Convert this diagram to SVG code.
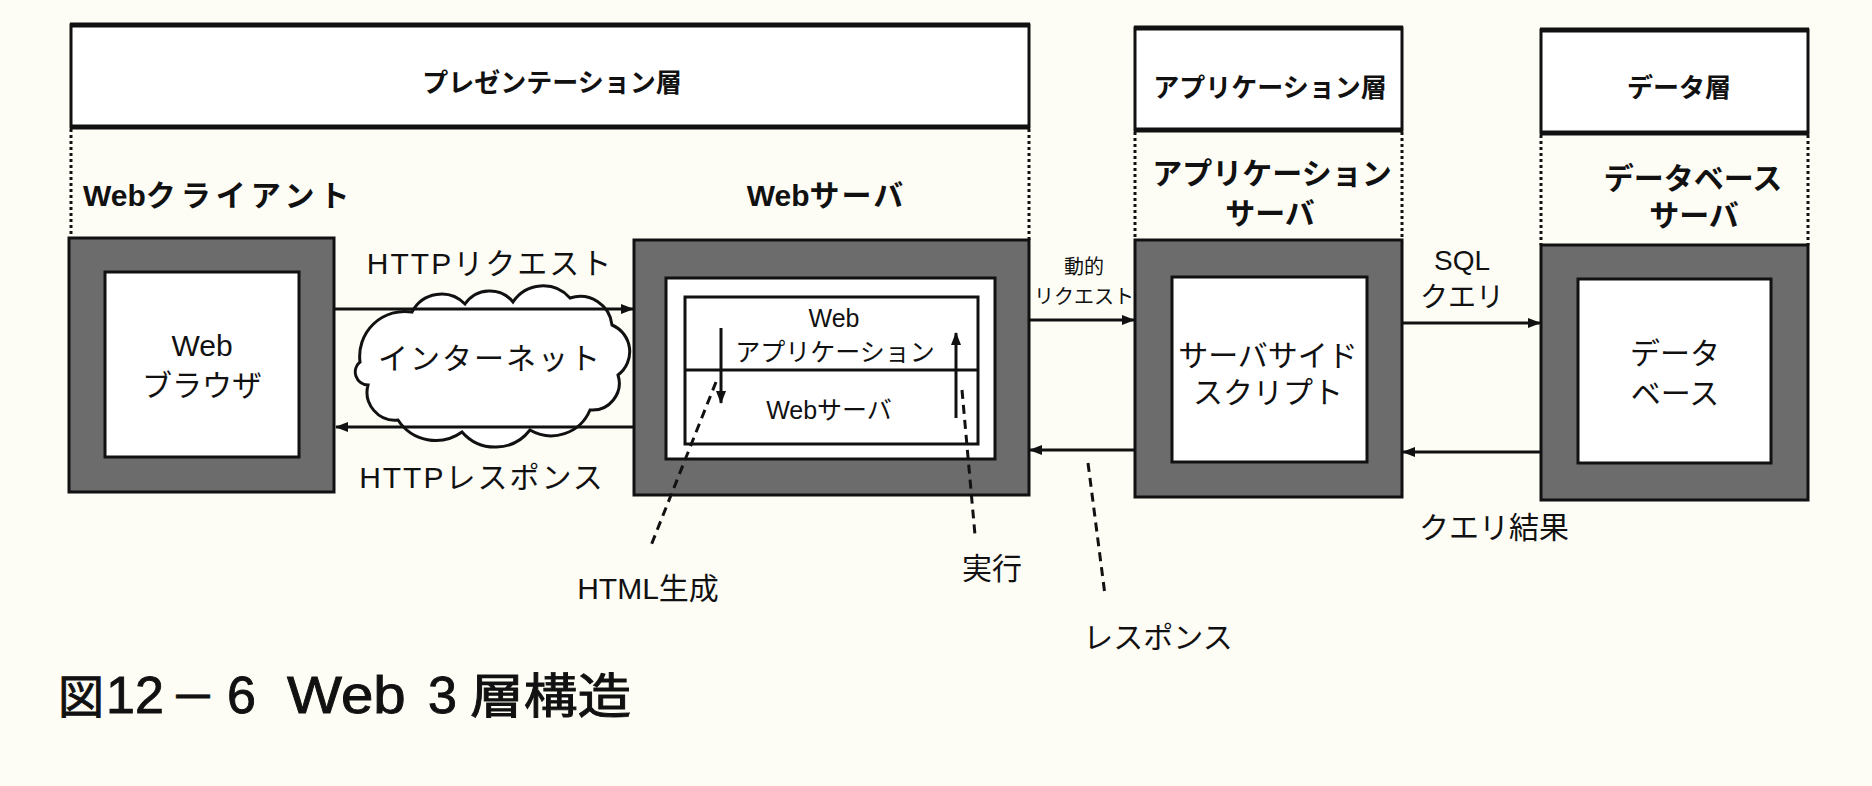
<svg xmlns="http://www.w3.org/2000/svg" width="1872" height="786" viewBox="0 0 1872 786">
<defs>
<style>
text{font-family:"Liberation Sans","Noto Sans CJK JP",sans-serif;fill:#111;}
.hd{font-size:26px;font-weight:bold;text-anchor:middle;}
.bl{font-size:30px;font-weight:bold;}
.c{text-anchor:middle;}
.n{font-size:30px;}
.s{font-size:25px;}
.hbox{fill:#fff;stroke:#111;stroke-width:3;}
.hline{stroke:#111;stroke-width:5;}
.dot{stroke:#111;stroke-width:3;stroke-dasharray:3 3;fill:none;}
.gray{fill:#6c6c6c;stroke:#111;stroke-width:3;}
.white{fill:#fff;stroke:#111;stroke-width:3;}
.arr{stroke:#111;stroke-width:3;fill:none;marker-end:url(#ah);}
.lead{stroke:#111;stroke-width:3;stroke-dasharray:9 6;fill:none;}
.cap{stroke:#111;stroke-width:0.9;}
</style>
<marker id="ah" markerUnits="userSpaceOnUse" markerWidth="14" markerHeight="12" refX="12" refY="5" orient="auto">
<path d="M0,0 L13,5 L0,10 z" fill="#111"/>
</marker>
</defs>
<rect width="1872" height="786" fill="#fdfdf6"/>

<g id="presentation-layer">
<rect class="hbox" x="71" y="25" width="958" height="102"/>
<line class="hline" x1="70" y1="25" x2="1030" y2="25"/>
<line class="hline" x1="70" y1="127" x2="1030" y2="127"/>
<text class="hd" x="552" y="92" font-size="28">プレゼンテーション層</text>
<line class="dot" x1="71" y1="129" x2="71" y2="238"/>
<line class="dot" x1="1029" y1="129" x2="1029" y2="240"/>
</g>

<g id="application-layer">
<rect class="hbox" x="1135" y="28" width="267" height="102"/>
<line class="hline" x1="1134" y1="28" x2="1403" y2="28"/>
<line class="hline" x1="1134" y1="130" x2="1403" y2="130"/>
<text class="hd" x="1270" y="97">アプリケーション層</text>
<line class="dot" x1="1135" y1="132" x2="1135" y2="240"/>
<line class="dot" x1="1402" y1="132" x2="1402" y2="240"/>
</g>

<g id="data-layer">
<rect class="hbox" x="1541" y="30" width="267" height="103"/>
<line class="hline" x1="1540" y1="30" x2="1809" y2="30"/>
<line class="hline" x1="1540" y1="133" x2="1809" y2="133"/>
<text class="hd" x="1679" y="97">データ層</text>
<line class="dot" x1="1541" y1="135" x2="1541" y2="245"/>
<line class="dot" x1="1808" y1="135" x2="1808" y2="245"/>
</g>

<g id="web-client">
<text class="bl" x="83" y="206">Web<tspan letter-spacing="5">クライアント</tspan></text>
<rect class="gray" x="69" y="238" width="265" height="254"/>
<rect class="white" x="105" y="272" width="194" height="185"/>
<text class="n c" x="202" y="356">Web</text>
<text class="n c" x="202" y="396">ブラウザ</text>
</g>

<g id="internet">
<path d="M360,362 A45,45 0 0 1 412,312 A33,33 0 0 1 465,304 A30,30 0 0 1 513,302 A36,36 0 0 1 570,298 A32,32 0 0 1 612,325 A29,29 0 0 1 618,375 A27,27 0 0 1 590,410 A42,42 0 0 1 530,430 A44,44 0 0 1 462,432 A45,45 0 0 1 398,420 A28,28 0 0 1 368,385 A13,13 0 0 1 360,362 Z" fill="#fff" stroke="#111" stroke-width="3"/>
<text class="n c" x="490" y="369" letter-spacing="2">インターネット</text>
</g>

<g id="web-server">
<text class="bl c" x="826" y="206">Web<tspan letter-spacing="2">サーバ</tspan></text>
<rect class="gray" x="634" y="240" width="395" height="255"/>
<rect class="white" x="666" y="278" width="329" height="181"/>
<rect x="685" y="297" width="293" height="147" fill="#fff" stroke="#111" stroke-width="3"/>
<line x1="685" y1="370" x2="978" y2="370" stroke="#111" stroke-width="3"/>
<text class="s c" x="834" y="327">Web</text>
<text class="s c" x="835" y="361">アプリケーション</text>
<text class="s c" x="829" y="419">Webサーバ</text>
</g>

<g id="application-server">
<text class="bl c" x="1272" y="184" font-size="29">アプリケーション</text>
<text class="bl c" x="1270" y="224" font-size="29">サーバ</text>
<rect class="gray" x="1135" y="240" width="267" height="257"/>
<rect class="white" x="1172" y="277" width="195" height="185"/>
<text class="n c" x="1268" y="366">サーバサイド</text>
<text class="n c" x="1268" y="403">スクリプト</text>
</g>

<g id="database-server">
<text class="bl c" x="1693" y="189" font-size="29">データベース</text>
<text class="bl c" x="1694" y="226" font-size="29">サーバ</text>
<rect class="gray" x="1541" y="245" width="267" height="255"/>
<rect class="white" x="1578" y="279" width="193" height="184"/>
<text class="n c" x="1675" y="364">データ</text>
<text class="n c" x="1675" y="404">ベース</text>
</g>

<g id="connectors">
<line class="arr" x1="335" y1="309" x2="633" y2="309"/>
<line class="arr" x1="634" y1="427" x2="336" y2="427"/>
<line class="arr" x1="721" y1="328" x2="721" y2="403"/>
<line class="arr" x1="956" y1="418" x2="956" y2="333"/>
<line class="arr" x1="1029" y1="320" x2="1134" y2="320"/>
<line class="arr" x1="1135" y1="450" x2="1030" y2="450"/>
<line class="arr" x1="1402" y1="323" x2="1540" y2="323"/>
<line class="arr" x1="1541" y1="452" x2="1403" y2="452"/>
<line class="lead" x1="716" y1="382" x2="650" y2="548"/>
<line class="lead" x1="962" y1="390" x2="975" y2="535"/>
<line class="lead" x1="1088" y1="463" x2="1105" y2="595"/>
</g>

<g id="labels">
<text class="n c" x="490" y="274" letter-spacing="2">HTTPリクエスト</text>
<text class="n c" x="482" y="488" letter-spacing="2">HTTPレスポンス</text>
<text class="c" x="1084" y="274" font-size="20">動的</text>
<text class="c" x="1084" y="304" font-size="20">リクエスト</text>
<text class="c" x="1462" y="270" font-size="28">SQL</text>
<text class="c" x="1462" y="307" font-size="28">クエリ</text>
<text class="n c" x="1494" y="538">クエリ結果</text>
<text class="n c" x="648" y="599">HTML生成</text>
<text class="n c" x="992" y="579">実行</text>
<text class="n c" x="1158" y="648">レスポンス</text>
</g>

<g id="caption">
<text class="cap" x="58" y="713" font-size="46">図<tspan x="106" font-size="52">12</tspan><tspan x="170">－</tspan><tspan x="227" font-size="52">6</tspan></text>
<text class="cap" transform="translate(287,713) scale(1.12,1)" font-size="52">Web</text>
<text class="cap" x="428" y="713" font-size="52">3</text>
<text class="cap" transform="translate(470,713) scale(1.12,1)" font-size="48">層構造</text>
</g>
</svg>
